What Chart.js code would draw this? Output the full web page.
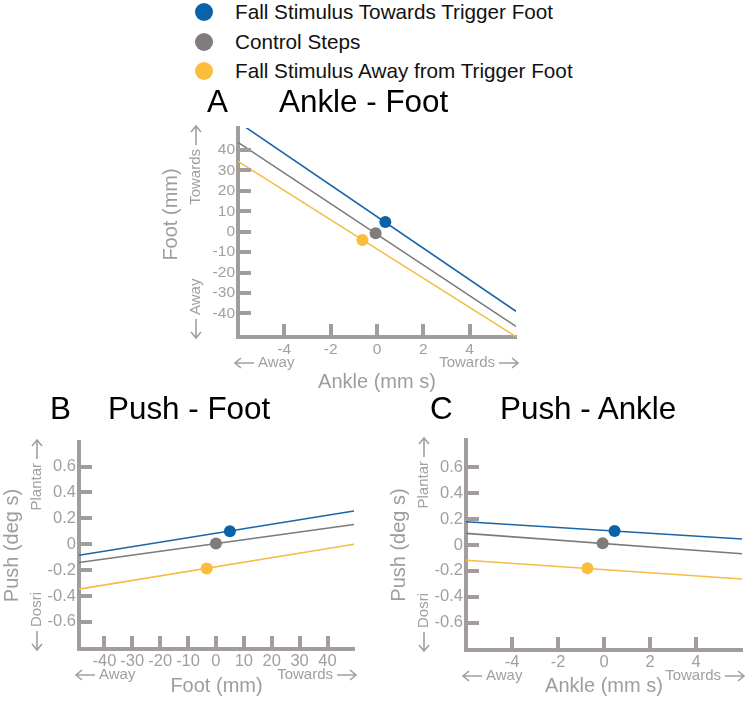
<!DOCTYPE html>
<html>
<head>
<meta charset="utf-8">
<script src="https://cdn.jsdelivr.net/npm/chart.js@4.4.1/dist/chart.umd.min.js"></script>
<style>
  body { margin: 0; background: #fff; font-family: "Liberation Sans", Arial, sans-serif; }
  #page { position: relative; width: 750px; height: 703px; overflow: hidden; }
  canvas { position: absolute; }
  .title { position: absolute; font-size: 31.4px; line-height: 31px; color: #000; white-space: nowrap; z-index: 2; }
  .row { position: absolute; left: 195px; height: 24px; display: flex; align-items: center; font-size: 20.7px; color: #111; white-space: nowrap; }
  .dot { width: 18px; height: 18px; border-radius: 50%; margin-right: 22px; }
</style>
</head>
<body>
<div id="page">
  <div id="legend"></div>

  <div class="title" style="left:207px;top:86px">A</div>
  <div class="title" style="left:279px;top:86px">Ankle - Foot</div>
  <div class="title" style="left:50px;top:393px">B</div>
  <div class="title" style="left:108px;top:393px">Push - Foot</div>
  <div class="title" style="left:430px;top:393px">C</div>
  <div class="title" style="left:500px;top:393px">Push - Ankle</div>

  <canvas id="chartA" width="367" height="288" style="left:159px;top:108px"></canvas>
  <canvas id="chartB" width="364" height="278" style="left:0px;top:422px"></canvas>
  <canvas id="chartC" width="363" height="280" style="left:387px;top:420px"></canvas>
</div>
<script>
// series
const seriesNames = ["Fall Stimulus Towards Trigger Foot", "Control Steps", "Fall Stimulus Away from Trigger Foot"];
const lineColors = ["#1c64a8", "#7b7979", "#f6bb45"];
const dotColors = ["#0b62a8", "#807c7b", "#fbbd3c"];

// A: Ankle (x) vs Foot (y)
const aLineX = [-6, 6];
const aLineTowards = [53.6, -38.9];
const aLineControl = [43.7, -46.3];
const aLineAway = [34.4, -51.3];
const aDotX = [0.36, -0.06, -0.63];
const aDotY = [4.7, -0.8, -4.1];
const aXTicks = [-4, -2, 0, 2, 4];
const aYTicks = [-40, -30, -20, -10, 0, 10, 20, 30, 40];

// B: Foot (x) vs Push (y)
const bLineX = [-49.1, 49.5];
const bLineTowards = [-0.085, 0.257];
const bLineControl = [-0.141, 0.152];
const bLineAway = [-0.347, 0.0];
const bDotX = [5.0, 0, -3.3];
const bDotY = [0.10, 0.005, -0.187];
const footTicks = [-40, -30, -20, -10, 0, 10, 20, 30, 40];
const pushTicks = [-0.6, -0.4, -0.2, 0, 0.2, 0.4, 0.6];

// C: Ankle (x) vs Push (y)
const cLineX = [-6, 6];
const cLineTowards = [0.179, 0.046];
const cLineControl = [0.09, -0.067];
const cLineAway = [-0.118, -0.262];
const cDotX = [0.46, -0.06, -0.72];
const cDotY = [0.108, 0.013, -0.179];
const ankleTicks = [-4, -2, 0, 2, 4];

const AXIS = "#a29d9b";
const LABEL = "#a0a0a0";
const TITLE = "#9d9d9d";
const FAMILY = "'Liberation Sans', Arial, sans-serif";

// legend (html)
const legend = document.getElementById("legend");
const rowY = [12, 42, 71];
seriesNames.forEach((name, i) => {
  const row = document.createElement("div");
  row.className = "row";
  row.style.top = (rowY[i] - 12) + "px";
  row.innerHTML = '<span class="dot" style="background:' + dotColors[i] + '"></span>' + name;
  legend.appendChild(row);
});

// arrow along local x axis, from x0 to x1, head at x1
function arrow(ctx, x0, x1, y) {
  const d = x1 > x0 ? 1 : -1;
  ctx.beginPath();
  ctx.moveTo(x0, y);
  ctx.lineTo(x1, y);
  ctx.moveTo(x1 - d * 6, y - 5);
  ctx.lineTo(x1, y);
  ctx.lineTo(x1 - d * 6, y + 5);
  ctx.stroke();
}

// inward tick marks + arrow labels
const decor = {
  id: "decor",
  afterDraw(chart, args, opts) {
    const { ctx, chartArea: a, scales } = chart;
    ctx.save();
    ctx.strokeStyle = AXIS;
    ctx.lineWidth = 4;
    ctx.beginPath();
    scales.x.ticks.forEach(t => {
      const px = Math.round(scales.x.getPixelForValue(t.value));
      ctx.moveTo(px, a.bottom);
      ctx.lineTo(px, a.bottom - 13);
    });
    scales.y.ticks.forEach(t => {
      const py = Math.round(scales.y.getPixelForValue(t.value));
      ctx.moveTo(a.left, py);
      ctx.lineTo(a.left + 13, py);
    });
    ctx.stroke();

    ctx.fillStyle = LABEL;
    ctx.strokeStyle = LABEL;
    ctx.lineWidth = 1.6;
    ctx.font = "15px " + FAMILY;
    ctx.textBaseline = "middle";
    const ry = a.bottom + 26;
    arrow(ctx, a.left - 3 + 19, a.left - 3, ry);
    ctx.textAlign = "left";
    ctx.fillText(opts.xLow, a.left + 20, ry);
    arrow(ctx, a.right + 2 - 19, a.right + 2, ry);
    ctx.textAlign = "right";
    ctx.fillText(opts.xHigh, a.right - 21, ry);

    // y arrows, rotated
    ctx.save();
    ctx.translate(a.left - 42, a.top - 2);
    ctx.rotate(-Math.PI / 2);
    arrow(ctx, -19, 0, 0);
    ctx.textAlign = "right";
    ctx.fillText(opts.yHigh, -23, 0);
    ctx.restore();

    ctx.save();
    ctx.translate(a.left - 42, a.bottom + 1);
    ctx.rotate(-Math.PI / 2);
    arrow(ctx, 19, 0, 0);
    ctx.textAlign = "left";
    ctx.fillText(opts.yLow, 23, 0);
    ctx.restore();

    // custom y title (panel A sits above centre)
    if (opts.yTitle) {
      ctx.save();
      ctx.fillStyle = TITLE;
      ctx.font = "20px " + FAMILY;
      ctx.translate(a.left - 67, (a.top + a.bottom) / 2 + opts.yTitleShift);
      ctx.rotate(-Math.PI / 2);
      ctx.textAlign = "center";
      ctx.fillText(opts.yTitle, 0, 0);
      ctx.restore();
    }
    ctx.restore();
  }
};

function pts(xs, ys) {
  return xs.map((x, i) => ({ x: x, y: ys[i] }));
}

function makePanel(id, p) {
  const datasets = [];
  // dots first so they sit on top
  seriesNames.forEach((name, i) => {
    datasets.push({
      label: name,
      data: [{ x: p.dotX[i], y: p.dotY[i] }],
      showLine: false,
      pointRadius: 6,
      pointBackgroundColor: dotColors[i],
      pointBorderWidth: 0
    });
  });
  p.lines.forEach((vals, i) => {
    datasets.push({
      label: seriesNames[i] + " fit",
      data: pts(p.lineX, vals),
      showLine: true,
      borderColor: lineColors[i],
      borderWidth: 1.6,
      pointRadius: 0
    });
  });

  const tickFont = { family: FAMILY, size: p.tickSize };
  const titleFont = { family: FAMILY, size: 20, lineHeight: 1.2 };

  return new Chart(document.getElementById(id), {
    type: "scatter",
    data: { datasets: datasets },
    options: {
      responsive: false,
      animation: false,
      events: [],
      layout: { padding: p.padding },
      plugins: {
        legend: { display: false },
        tooltip: { enabled: false },
        decor: p.arrows
      },
      scales: {
        x: {
          type: "linear",
          min: p.xMin,
          max: p.xMax,
          afterBuildTicks: s => { s.ticks = p.xTicks.map(v => ({ value: v })); },
          afterFit: s => { s.height = p.xH; },
          grid: { display: false, drawTicks: false },
          border: { display: true, color: AXIS, width: 4 },
          ticks: { color: LABEL, font: tickFont, padding: 3, autoSkip: false, maxRotation: 0, callback: v => String(v) },
          title: { display: true, text: p.xTitle, color: TITLE, font: titleFont, padding: 0 }
        },
        y: {
          type: "linear",
          min: p.yMin,
          max: p.yMax,
          afterBuildTicks: s => { s.ticks = p.yTicks.map(v => ({ value: v })); },
          afterFit: s => { s.width = 79; },
          grid: { display: false, drawTicks: false },
          border: { display: true, color: AXIS, width: 4 },
          ticks: { color: LABEL, font: tickFont, padding: 3, autoSkip: false, callback: v => String(v) },
          title: { display: !p.arrows.yTitle, text: p.yTitle, color: TITLE, font: titleFont, padding: 0 }
        }
      }
    },
    plugins: [decor]
  });
}

makePanel("chartA", {
  lineX: aLineX, lines: [aLineTowards, aLineControl, aLineAway],
  dotX: aDotX, dotY: aDotY,
  xMin: -6, xMax: 6, yMin: -51.5, yMax: 50.7,
  xTicks: aXTicks, yTicks: aYTicks,
  xTitle: "Ankle (mm s)", yTitle: "Foot (mm)",
  xH: 57, tickSize: 15.5,
  padding: { left: 0, top: 20, right: 10, bottom: 2 },
  arrows: { xLow: "Away", xHigh: "Towards", yLow: "Away", yHigh: "Towards", yTitle: "Foot (mm)", yTitleShift: -18 }
});

makePanel("chartB", {
  lineX: bLineX, lines: [bLineTowards, bLineControl, bLineAway],
  dotX: bDotX, dotY: bDotY,
  xMin: -49.1, xMax: 49.5, yMin: -0.81, yMax: 0.79,
  xTicks: footTicks, yTicks: pushTicks,
  xTitle: "Foot (mm)", yTitle: "Push (deg s)",
  xH: 49, tickSize: 16.5,
  padding: { left: 0, top: 20, right: 10, bottom: 2 },
  arrows: { xLow: "Away", xHigh: "Towards", yLow: "Dosri", yHigh: "Plantar" }
});

makePanel("chartC", {
  lineX: cLineX, lines: [cLineTowards, cLineControl, cLineAway],
  dotX: cDotX, dotY: cDotY,
  xMin: -6, xMax: 6, yMin: -0.81, yMax: 0.81,
  xTicks: ankleTicks, yTicks: pushTicks,
  xTitle: "Ankle (mm s)", yTitle: "Push (deg s)",
  xH: 48, tickSize: 16.5,
  padding: { left: 0, top: 20, right: 8, bottom: 2 },
  arrows: { xLow: "Away", xHigh: "Towards", yLow: "Dosri", yHigh: "Plantar" }
});
</script>
</body>
</html>
